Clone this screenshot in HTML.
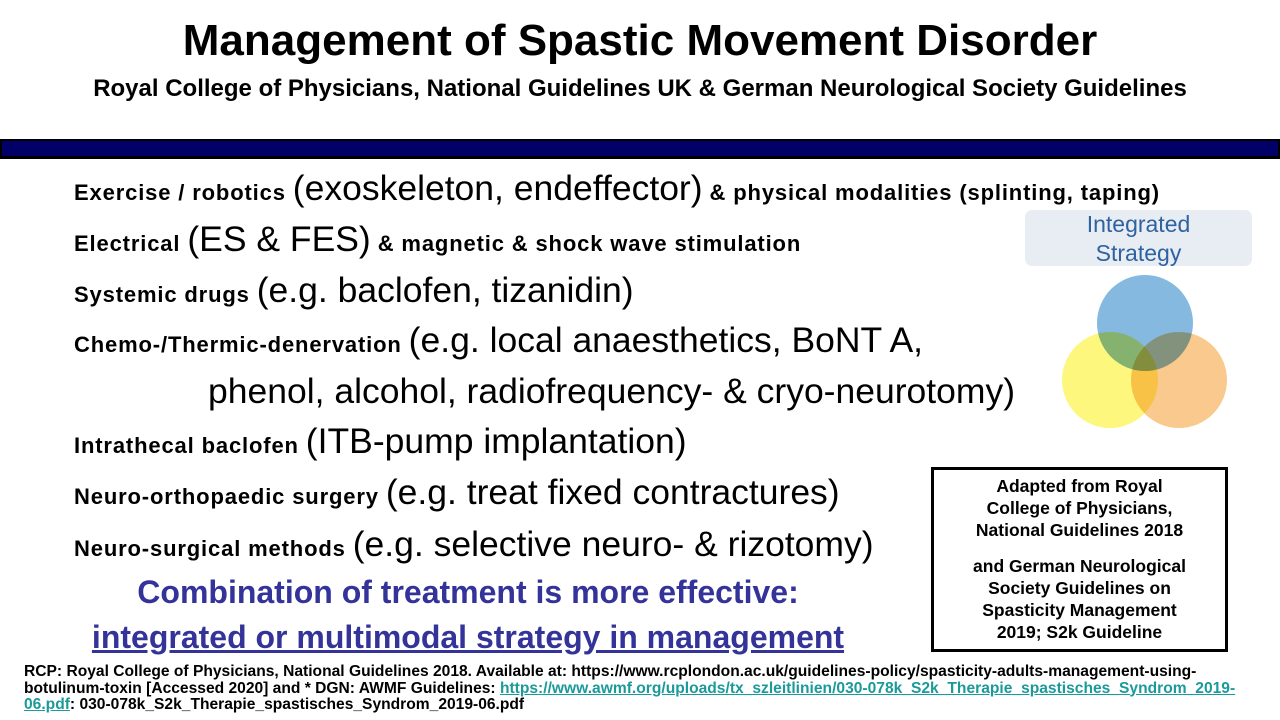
<!DOCTYPE html>
<html><head><meta charset="utf-8"><style>
body{margin:0;width:1280px;height:720px;background:#fff;position:relative;overflow:hidden;font-family:"Liberation Sans",Arial,sans-serif;color:#000}
.a{position:absolute;white-space:nowrap}
.b{font-weight:bold;font-size:22px;letter-spacing:0.85px}
.l{font-size:35.5px}
.ln{position:absolute;left:74px;white-space:nowrap;line-height:40px}
</style></head><body>
<div class="a" style="left:0;width:1280px;text-align:center;top:16px;font-weight:bold;font-size:44px">Management of Spastic Movement Disorder</div>
<div class="a" style="left:0;width:1280px;text-align:center;top:75px;font-weight:bold;font-size:24px">Royal College of Physicians, National Guidelines UK &amp; German Neurological Society Guidelines</div>
<div class="a" style="left:0;top:139px;width:1280px;height:20px;background:#000"></div>
<div class="a" style="left:2px;top:141px;width:1276px;height:15px;background:#000066"></div>

<div class="ln" style="top:168px"><span class="b">Exercise / robotics </span><span class="l">(exoskeleton, endeffector)</span><span class="b"> &amp; physical modalities (splinting, taping)</span></div>
<div class="ln" style="top:219px"><span class="b">Electrical </span><span class="l">(ES &amp; FES)</span><span class="b"> &amp; magnetic &amp; shock wave stimulation</span></div>
<div class="ln" style="top:270px"><span class="b">Systemic drugs </span><span class="l">(e.g. baclofen, tizanidin)</span></div>
<div class="ln" style="top:320px"><span class="b">Chemo-/Thermic-denervation </span><span class="l">(e.g. local anaesthetics, BoNT A,</span></div>
<div class="ln" style="top:371px;left:208px"><span class="l">phenol, alcohol, radiofrequency- &amp; cryo-neurotomy)</span></div>
<div class="ln" style="top:421px"><span class="b">Intrathecal baclofen </span><span class="l">(ITB-pump implantation)</span></div>
<div class="ln" style="top:472px"><span class="b">Neuro-orthopaedic surgery </span><span class="l">(e.g. treat fixed contractures)</span></div>
<div class="ln" style="top:524px"><span class="b">Neuro-surgical methods </span><span class="l">(e.g. selective neuro- &amp; rizotomy)</span></div>

<div class="a" style="left:68px;width:800px;text-align:center;top:574px;font-weight:bold;font-size:32px;color:#333399">Combination of treatment is more effective:</div>
<div class="a" style="left:68px;width:800px;text-align:center;top:619px;font-weight:bold;font-size:32px;color:#333399;text-decoration:underline">integrated or multimodal strategy in management</div>

<div class="a" style="left:1025px;top:210px;width:227px;height:56px;background:#e8ecf3;border-radius:7px;text-align:center;color:#2e62a0;font-size:23px;line-height:29px">Integrated<br>Strategy</div>
<svg class="a" style="left:1050px;top:265px" width="200" height="170">
<circle cx="95" cy="58" r="48" fill="#86b9e0" style="mix-blend-mode:multiply"/>
<circle cx="60" cy="115" r="48" fill="#fdf77e" style="mix-blend-mode:multiply"/>
<circle cx="129" cy="115" r="48" fill="#f9c98e" style="mix-blend-mode:multiply"/>
</svg>

<div class="a" style="left:931px;top:467px;width:297px;height:185px;box-sizing:border-box;border:3px solid #000;text-align:center;font-weight:bold;font-size:17.5px;line-height:22px;padding-top:5px">Adapted from Royal<br>College of Physicians,<br>National Guidelines 2018<div style="height:14px"></div>and German Neurological<br>Society Guidelines on<br>Spasticity Management<br>2019; S2k Guideline</div>

<div class="a" style="left:24px;top:664px;font-weight:bold;font-size:15.6px;line-height:16.5px">RCP: Royal College of Physicians, National Guidelines 2018. Available at: https://www.rcplondon.ac.uk/guidelines-policy/spasticity-adults-management-using-<br>botulinum-toxin [Accessed 2020] and * DGN: AWMF Guidelines: <span style="color:#1a9a9a;text-decoration:underline">https://www.awmf.org/uploads/tx_szleitlinien/030-078k_S2k_Therapie_spastisches_Syndrom_2019-<br>06.pdf</span>: 030-078k_S2k_Therapie_spastisches_Syndrom_2019-06.pdf</div>
</body></html>
